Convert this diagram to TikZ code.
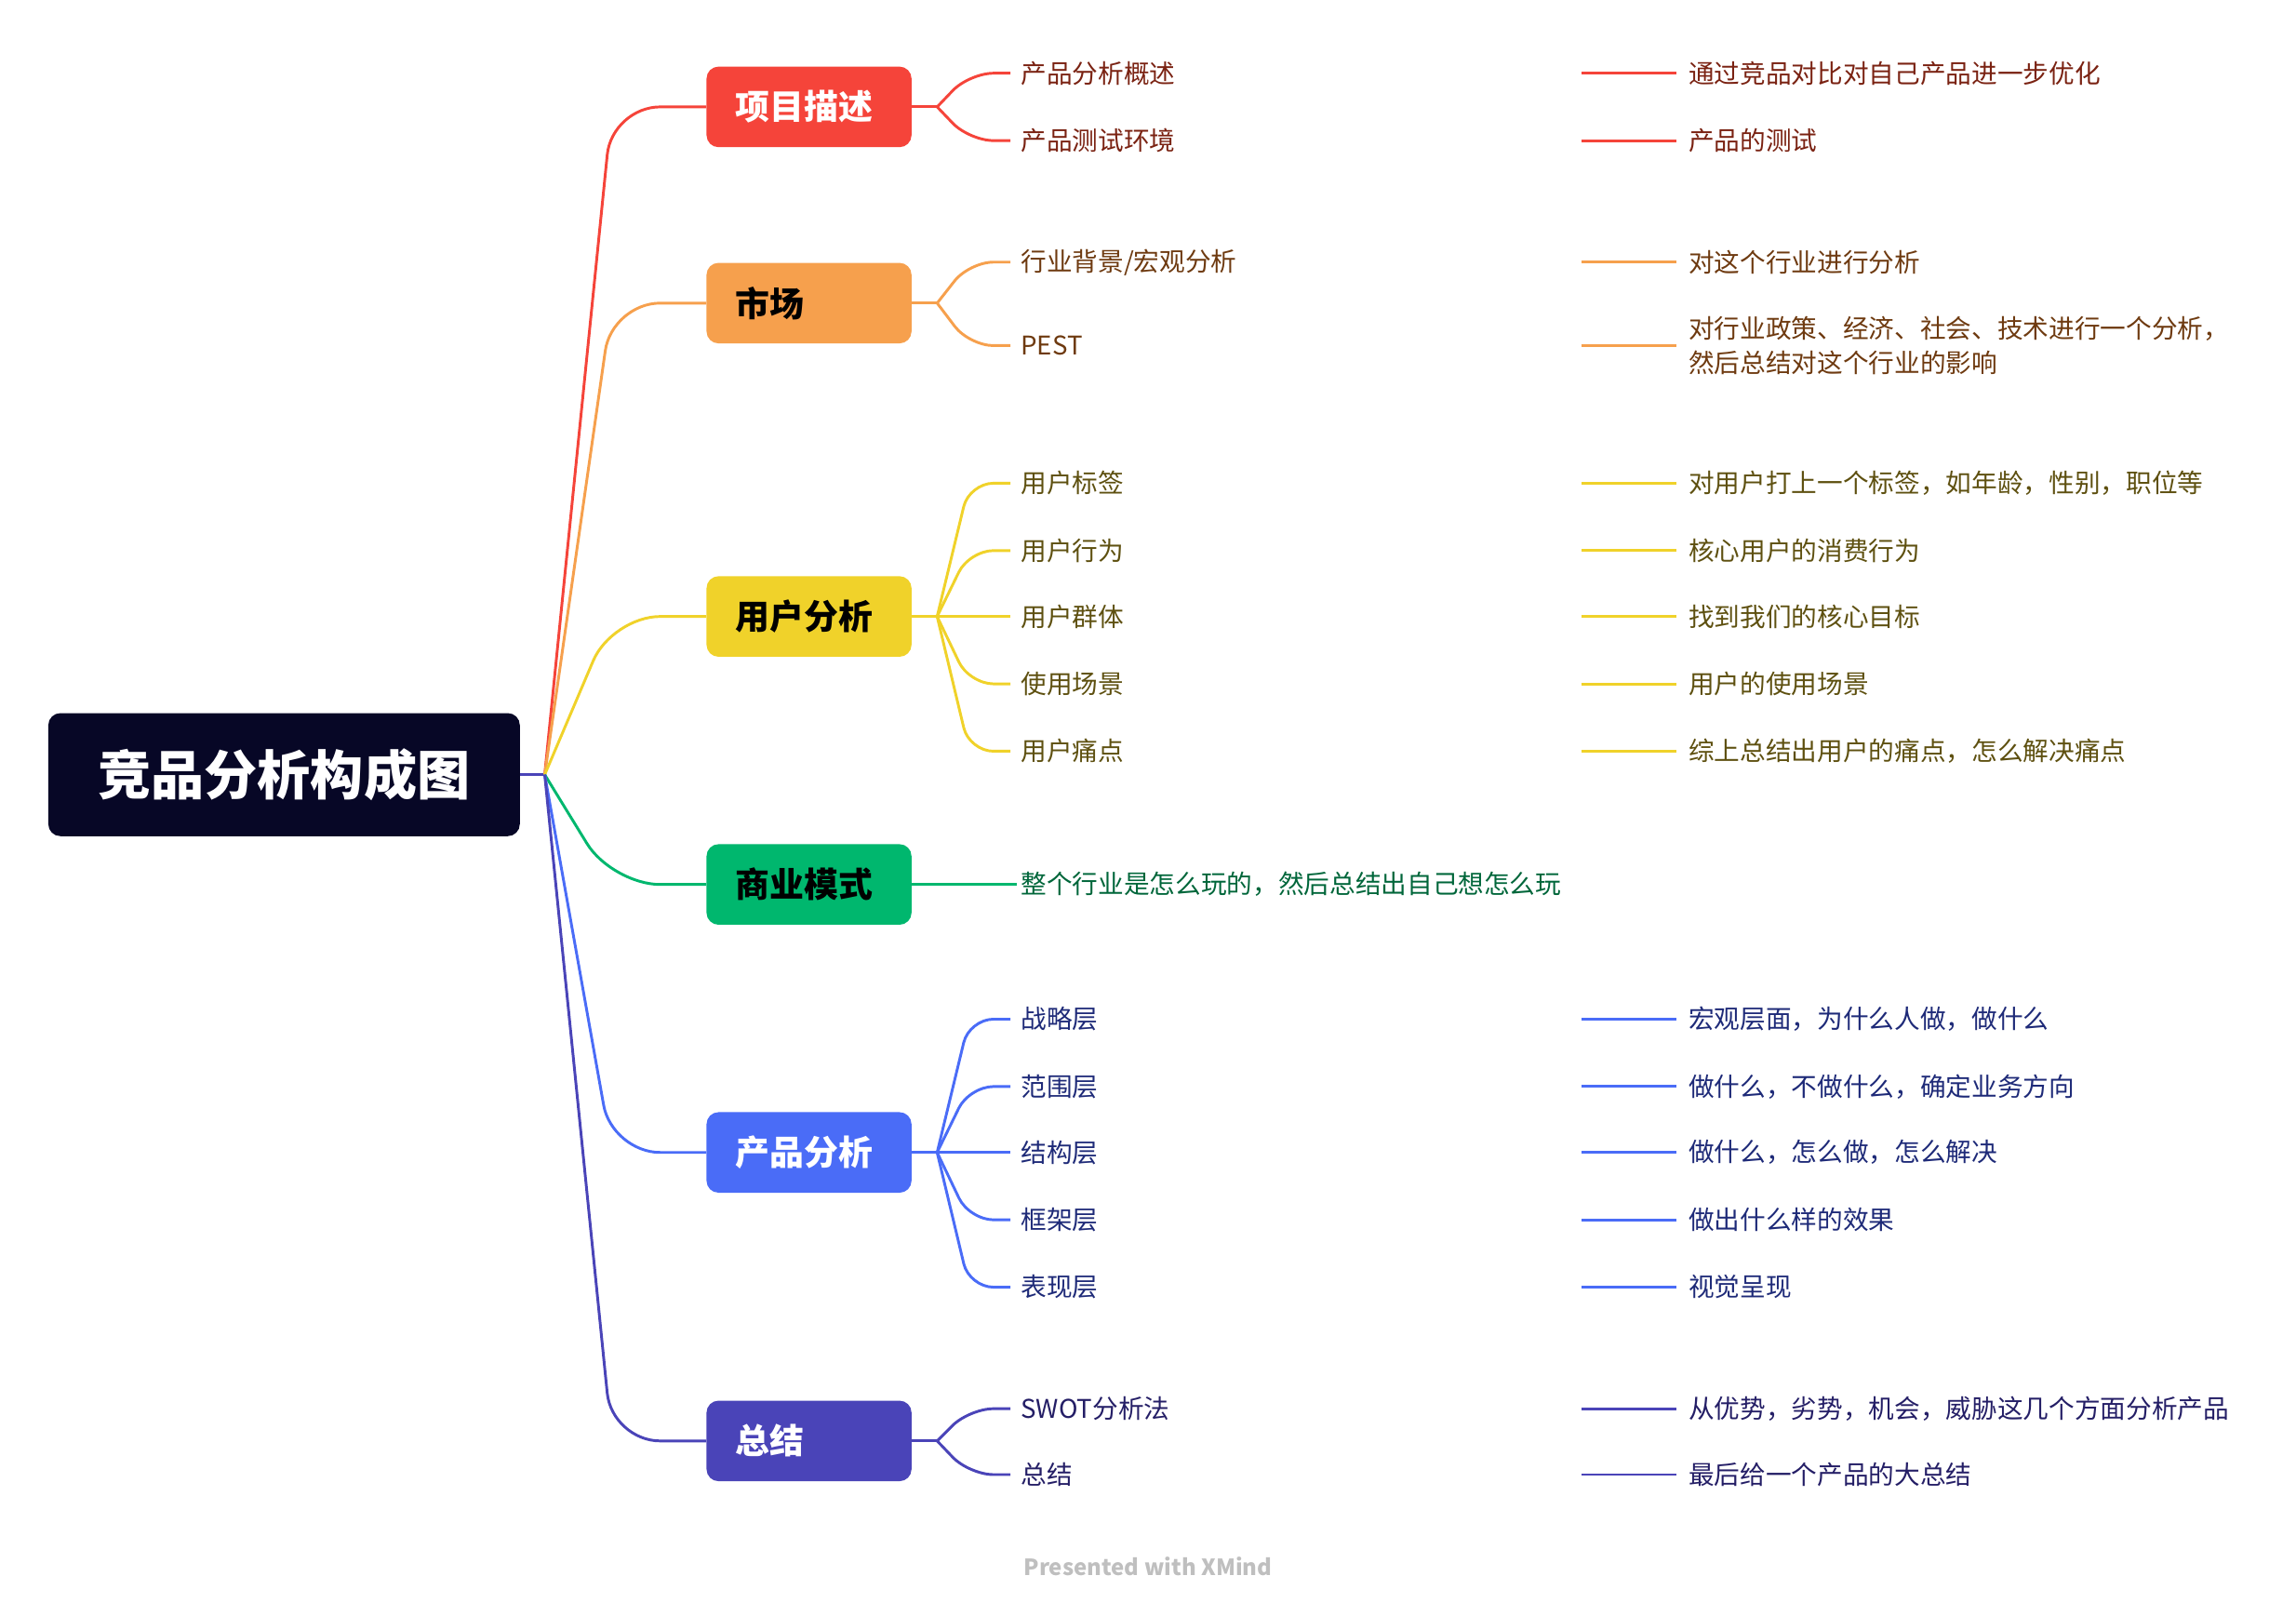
\documentclass[tikz,border=0pt]{standalone}
\usepackage{fontspec}
\setmainfont{Noto Sans CJK SC}
\definecolor{cR}{HTML}{F5443A}\definecolor{tR}{HTML}{7A2212}
\definecolor{cO}{HTML}{F6A04D}\definecolor{tO}{HTML}{6E3A10}
\definecolor{cY}{HTML}{F0D22A}\definecolor{tY}{HTML}{5E5010}
\definecolor{cG}{HTML}{00B76E}\definecolor{tG}{HTML}{00663A}
\definecolor{cB}{HTML}{4A6CF7}\definecolor{tB}{HTML}{1E2A78}
\definecolor{cP}{HTML}{4A44B8}\definecolor{tP}{HTML}{241E66}
\definecolor{rootc}{HTML}{070726}
\tikzset{
 br/.style={fill=#1,rounded corners=7pt,minimum width=140*0.3mm,minimum height=55*0.3mm,inner sep=0,text width=100*0.3mm,align=left,font=\fontsize{20pt}{22pt}\selectfont\bfseries},
 sub/.style={anchor=west,inner sep=0,font=\fontsize{15pt}{20pt}\selectfont,text=#1},
 ln/.style={line width=1.6pt,draw=#1},
}
\newcommand{\mysub}[6]{% name, y, color, textcolor, label, detail
 \node[sub=#4] (s#1) at (697,#2) {#5};
 \coordinate (d#1a) at (1080,#2); \coordinate (d#1b) at (1145,#2);
 \draw[ln=#3] (d#1a) -- (d#1b);
 \node[sub=#4,align=left] (t#1) at (1153,#2) {#6};
}
\begin{document}
\begin{tikzpicture}[x=0.3mm,y=-0.3mm]
\useasboundingbox (0,0) rectangle (1568,1103);
\node[fill=rootc,rounded corners=7pt,minimum width=322*0.3mm,minimum height=84*0.3mm,text=white,font=\fontsize{31pt}{34pt}\selectfont\bfseries] (root) at (194,529) {竞品分析构成图};
\coordinate (hub) at (372,529);
\draw[ln=cP] (root.east) -- (hub);
% branches
\foreach \n/\y/\c/\tc/\t in {a/73/cR/white/项目描述, b/207/cO/black/市场, c/421/cY/black/用户分析, d/604/cG/black/商业模式, e/787/cB/white/产品分析, f/984/cP/white/总结}{
 \node[br=\c,text=\tc] (\n) at (552.5,\y) {\t};
 \draw[ln=\c,rounded corners=28pt] (hub) -- (418,\y) -- (\n.west);
 \coordinate (\n j) at (640,\y);
 \draw[ln=\c] (\n.east) -- (\n j);
}
\newcommand{\jn}[3]{\draw[ln=#1,rounded corners=14pt] (#2) -- (662,#3) -- (690,#3);}
% a
\mysub{a1}{50}{cR}{tR}{产品分析概述}{通过竞品对比对自己产品进一步优化}
\mysub{a2}{96}{cR}{tR}{产品测试环境}{产品的测试}
\jn{cR}{aj}{50}\jn{cR}{aj}{96}
% b
\mysub{b1}{179}{cO}{tO}{行业背景/宏观分析}{对这个行业进行分析}
\mysub{b2}{236}{cO}{tO}{PEST}{对行业政策、经济、社会、技术进行一个分析，\\然后总结对这个行业的影响}
\jn{cO}{bj}{179}\jn{cO}{bj}{236}
% c
\mysub{c1}{330}{cY}{tY}{用户标签}{对用户打上一个标签，如年龄，性别，职位等}
\mysub{c2}{376}{cY}{tY}{用户行为}{核心用户的消费行为}
\mysub{c3}{421}{cY}{tY}{用户群体}{找到我们的核心目标}
\mysub{c4}{467}{cY}{tY}{使用场景}{用户的使用场景}
\mysub{c5}{513}{cY}{tY}{用户痛点}{综上总结出用户的痛点，怎么解决痛点}
\jn{cY}{cj}{330}\jn{cY}{cj}{376}\draw[ln=cY] (cj) -- (690,421);\jn{cY}{cj}{467}\jn{cY}{cj}{513}
% d
\node[sub=tG] (d1) at (697,604) {整个行业是怎么玩的，然后总结出自己想怎么玩};
\draw[ln=cG] (dj) -- ([xshift=-2pt]d1.west);
% e
\mysub{e1}{696}{cB}{tB}{战略层}{宏观层面，为什么人做，做什么}
\mysub{e2}{742}{cB}{tB}{范围层}{做什么，不做什么，确定业务方向}
\mysub{e3}{787}{cB}{tB}{结构层}{做什么，怎么做，怎么解决}
\mysub{e4}{833}{cB}{tB}{框架层}{做出什么样的效果}
\mysub{e5}{879}{cB}{tB}{表现层}{视觉呈现}
\jn{cB}{ej}{696}\jn{cB}{ej}{742}\draw[ln=cB] (ej) -- (690,787);\jn{cB}{ej}{833}\jn{cB}{ej}{879}
% f
\mysub{f1}{962}{cP}{tP}{SWOT分析法}{从优势，劣势，机会，威胁这几个方面分析产品}
\mysub{f2}{1007}{cP}{tP}{总结}{最后给一个产品的大总结}
\jn{cP}{fj}{962}\jn{cP}{fj}{1007}
\node[text=black!25,font=\fontsize{13pt}{14pt}\selectfont\bfseries] (credit) at (784,1070) {Presented with XMind};
\end{tikzpicture}
\end{document}
